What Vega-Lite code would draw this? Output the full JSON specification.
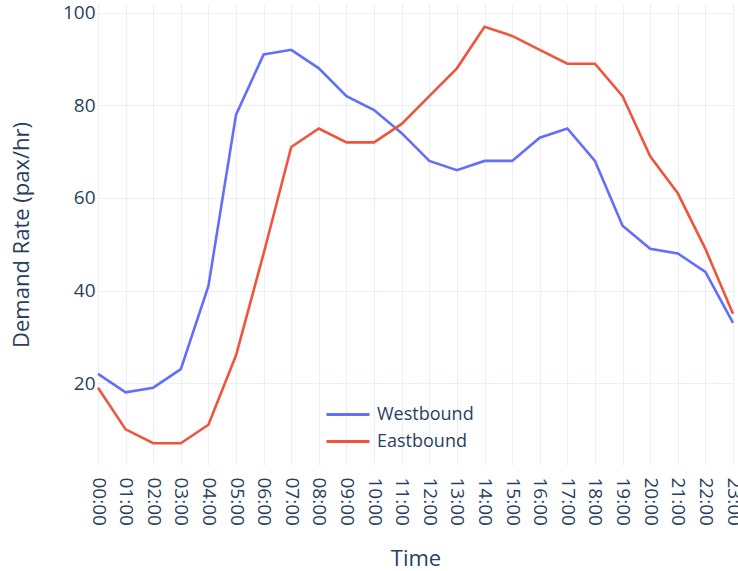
{
  "$schema": "https://vega.github.io/schema/vega-lite/v6.json",
  "width": 635,
  "height": 461,
  "autosize": {"type": "none"},
  "padding": {"left": 98, "top": 4, "right": 5, "bottom": 106},
  "background": "white",
  "config": {
    "view": {"stroke": null},
    "font": "Open Sans",
    "axis": {"labelFont": "Open Sans", "titleFont": "Open Sans", "labelColor": "#2a3f5f", "titleColor": "#2a3f5f", "titleFontWeight": "normal", "gridColor": "#EBF0F8", "gridWidth": 1, "domain": false, "ticks": false},
    "legend": {"labelFont": "Open Sans", "labelColor": "#2a3f5f"}
  },
  "data": {
    "values": [
      {"time": "00:00", "direction": "Westbound", "rate": 22},
      {"time": "01:00", "direction": "Westbound", "rate": 18},
      {"time": "02:00", "direction": "Westbound", "rate": 19},
      {"time": "03:00", "direction": "Westbound", "rate": 23},
      {"time": "04:00", "direction": "Westbound", "rate": 41},
      {"time": "05:00", "direction": "Westbound", "rate": 78},
      {"time": "06:00", "direction": "Westbound", "rate": 91},
      {"time": "07:00", "direction": "Westbound", "rate": 92},
      {"time": "08:00", "direction": "Westbound", "rate": 88},
      {"time": "09:00", "direction": "Westbound", "rate": 82},
      {"time": "10:00", "direction": "Westbound", "rate": 79},
      {"time": "11:00", "direction": "Westbound", "rate": 74},
      {"time": "12:00", "direction": "Westbound", "rate": 68},
      {"time": "13:00", "direction": "Westbound", "rate": 66},
      {"time": "14:00", "direction": "Westbound", "rate": 68},
      {"time": "15:00", "direction": "Westbound", "rate": 68},
      {"time": "16:00", "direction": "Westbound", "rate": 73},
      {"time": "17:00", "direction": "Westbound", "rate": 75},
      {"time": "18:00", "direction": "Westbound", "rate": 68},
      {"time": "19:00", "direction": "Westbound", "rate": 54},
      {"time": "20:00", "direction": "Westbound", "rate": 49},
      {"time": "21:00", "direction": "Westbound", "rate": 48},
      {"time": "22:00", "direction": "Westbound", "rate": 44},
      {"time": "23:00", "direction": "Westbound", "rate": 33},
      {"time": "00:00", "direction": "Eastbound", "rate": 19},
      {"time": "01:00", "direction": "Eastbound", "rate": 10},
      {"time": "02:00", "direction": "Eastbound", "rate": 7},
      {"time": "03:00", "direction": "Eastbound", "rate": 7},
      {"time": "04:00", "direction": "Eastbound", "rate": 11},
      {"time": "05:00", "direction": "Eastbound", "rate": 26},
      {"time": "06:00", "direction": "Eastbound", "rate": 48},
      {"time": "07:00", "direction": "Eastbound", "rate": 71},
      {"time": "08:00", "direction": "Eastbound", "rate": 75},
      {"time": "09:00", "direction": "Eastbound", "rate": 72},
      {"time": "10:00", "direction": "Eastbound", "rate": 72},
      {"time": "11:00", "direction": "Eastbound", "rate": 76},
      {"time": "12:00", "direction": "Eastbound", "rate": 82},
      {"time": "13:00", "direction": "Eastbound", "rate": 88},
      {"time": "14:00", "direction": "Eastbound", "rate": 97},
      {"time": "15:00", "direction": "Eastbound", "rate": 95},
      {"time": "16:00", "direction": "Eastbound", "rate": 92},
      {"time": "17:00", "direction": "Eastbound", "rate": 89},
      {"time": "18:00", "direction": "Eastbound", "rate": 89},
      {"time": "19:00", "direction": "Eastbound", "rate": 82},
      {"time": "20:00", "direction": "Eastbound", "rate": 69},
      {"time": "21:00", "direction": "Eastbound", "rate": 61},
      {"time": "22:00", "direction": "Eastbound", "rate": 49},
      {"time": "23:00", "direction": "Eastbound", "rate": 35}
    ]
  },
  "mark": {"type": "line", "strokeWidth": 2.6, "interpolate": "linear"},
  "encoding": {
    "x": {
      "field": "time", "type": "ordinal",
      "scale": {"type": "point", "padding": 0},
      "axis": {"title": "Time", "titleFontSize": 22, "labelFontSize": 19, "labelAngle": 90, "labelAlign": "left", "labelBaseline": "middle", "labelPadding": 12, "titlePadding": 23, "grid": true}
    },
    "y": {
      "field": "rate", "type": "quantitative",
      "scale": {"domain": [2.3, 101.9], "nice": false, "zero": false},
      "axis": {"title": "Demand Rate (pax/hr)", "titleFontSize": 22, "labelFontSize": 19, "values": [20, 40, 60, 80, 100], "labelPadding": 3, "titlePadding": 29}
    },
    "color": {
      "field": "direction", "type": "nominal",
      "scale": {"domain": ["Westbound", "Eastbound"], "range": ["#636efa", "#EF553B"]},
      "legend": {"title": null, "orient": "none", "legendX": 227, "legendY": 397, "symbolType": "stroke", "symbolSize": 1849, "symbolStrokeWidth": 3, "labelFontSize": 18, "clipHeight": 27, "rowPadding": 0, "labelOffset": 6}
    }
  }
}
